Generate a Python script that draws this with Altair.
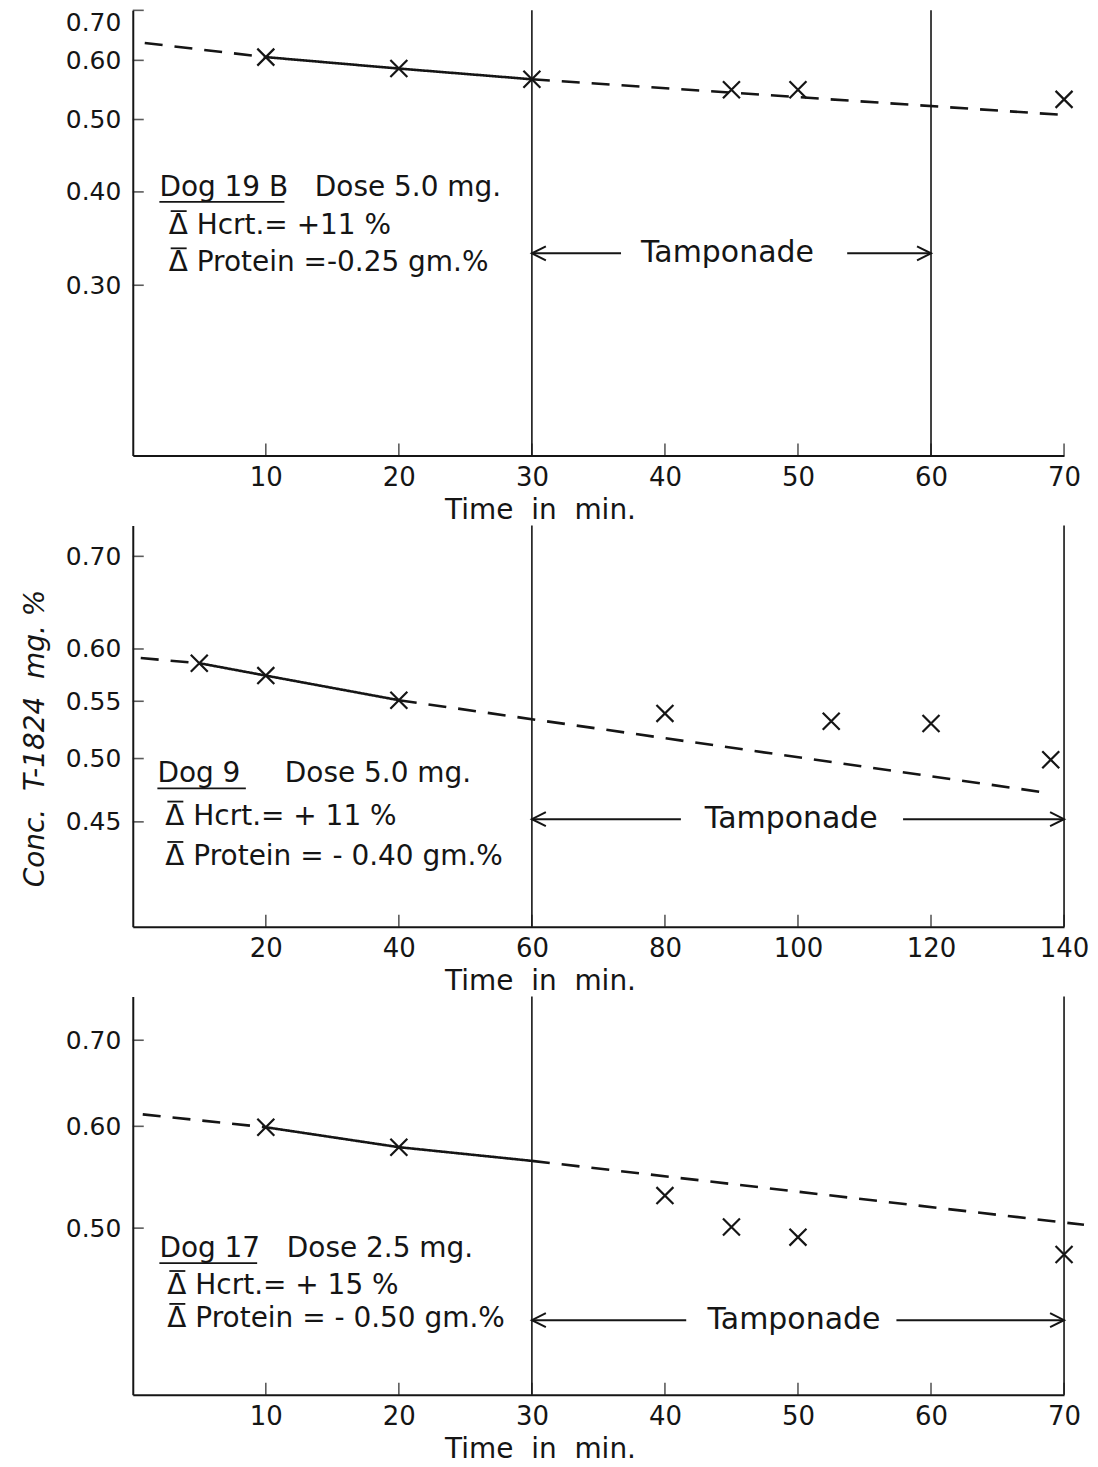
import altair as alt
import pandas as pd

INK = "#151515"
FONT = "DejaVu Sans"
NB = "\u00a0"  # non-breaking space (SVG collapses ordinary runs of spaces)

# ---------------- Panel 1: Dog 19 B ----------------
p1_time = [10, 20, 30, 45, 50, 70]
p1_conc = [0.606, 0.585, 0.566, 0.548, 0.548, 0.532]
p1_fit_time = [0.9, 10, 10, 20, 30, 30, 70]
p1_fit_conc = [0.633, 0.606, 0.606, 0.585, 0.566, 0.566, 0.507]
p1_fit_part = ["a", "a", "b", "b", "b", "c", "c"]
p1_fit_style = ["dashed", "dashed", "solid", "solid", "solid", "dashed", "dashed"]
p1_tamponade = [30, 60]
p1_shafts = [[30, 36.7], [53.7, 60]]
p1_label_time = 44.7
p1_level = 0.331
p1_note_time = [2.0, 2.7, 2.7]
p1_note_conc = [0.405, 0.360, 0.321]
p1_note_text = ["Dog 19 B" + NB * 3 + "Dose 5.0 mg.",
                "\u0394 Hcrt.= +11 %",
                "\u0394 Protein =-0.25 gm.%"]
p1_underline_end = 11.4
p1_x_ticks = [10, 20, 30, 40, 50, 60, 70]
p1_y_ticks = [0.30, 0.40, 0.50, 0.60, 0.70]
p1_x_domain = [0, 70]
p1_y_domain = [0.1775, 0.70]

# ---------------- Panel 2: Dog 9 ----------------
p2_time = [10, 20, 40, 80, 105, 120, 138]
p2_conc = [0.586, 0.574, 0.551, 0.539, 0.532, 0.530, 0.499]
p2_fit_time = [1.2, 10, 10, 20, 40, 40, 136.5]
p2_fit_conc = [0.591, 0.586, 0.586, 0.574, 0.551, 0.551, 0.473]
p2_fit_part = ["a", "a", "b", "b", "b", "c", "c"]
p2_fit_style = ["dashed", "dashed", "solid", "solid", "solid", "dashed", "dashed"]
p2_tamponade = [60, 140]
p2_shafts = [[60, 82.4], [115.8, 140]]
p2_label_time = 99.0
p2_level = 0.452
p2_note_time = [3.7, 4.9, 4.9]
p2_note_conc = [0.487, 0.454, 0.4245]
p2_note_text = ["Dog 9" + NB * 5 + "Dose 5.0 mg.",
                "\u0394 Hcrt.= + 11 %",
                "\u0394 Protein = - 0.40 gm.%"]
p2_underline_end = 17.0
p2_x_ticks = [20, 40, 60, 80, 100, 120, 140]
p2_y_ticks = [0.45, 0.50, 0.55, 0.60, 0.70]
p2_x_domain = [0, 140]
p2_y_domain = [0.378, 0.737]

# ---------------- Panel 3: Dog 17 ----------------
p3_time = [10, 20, 40, 45, 50, 70]
p3_conc = [0.599, 0.578, 0.530, 0.501, 0.492, 0.477]
p3_fit_time = [0.75, 10, 10, 20, 30, 30, 71.5]
p3_fit_conc = [0.613, 0.599, 0.599, 0.578, 0.564, 0.564, 0.503]
p3_fit_part = ["a", "a", "b", "b", "b", "c", "c"]
p3_fit_style = ["dashed", "dashed", "solid", "solid", "solid", "dashed", "dashed"]
p3_tamponade = [30, 70]
p3_shafts = [[30, 41.6], [57.4, 70]]
p3_label_time = 49.7
p3_level = 0.424
p3_note_time = [2.0, 2.6, 2.6]
p3_note_conc = [0.4816, 0.4508, 0.425]
p3_note_text = ["Dog 17" + NB * 3 + "Dose 2.5 mg.",
                "\u0394 Hcrt.= + 15 %",
                "\u0394 Protein = - 0.50 gm.%"]
p3_underline_end = 9.35
p3_x_ticks = [10, 20, 30, 40, 50, 60, 70]
p3_y_ticks = [0.50, 0.60, 0.70]
p3_x_domain = [0, 70]
p3_y_domain = [0.371, 0.757]

Y_TITLE = "Conc." + NB * 2 + "T-1824" + NB * 2 + "mg." + NB + "%"
X_TITLE = "Time" + NB * 2 + "in" + NB * 2 + "min."

X_MARK = "M -1 -1 L 1 1 M -1 1 L 1 -1"
HEAD_LEFT = "M 2 -1 L 0 0 L 2 1"
HEAD_RIGHT = "M -2 -1 L 0 0 L -2 1"

NOTE_SIZE = 28


def panel(time, conc, fit_time, fit_conc, fit_part, fit_style, tamp, shafts,
          label_time, level, note_time, note_conc, note_text, ul_end, xticks,
          yticks, xdom, ydom, width, height, ytitle=None, flush_top=False):
    pts = pd.DataFrame({"time": time, "conc": conc})
    fit = pd.DataFrame({"time": fit_time, "conc": fit_conc,
                        "part": fit_part, "style": fit_style})
    rules = pd.DataFrame({"time": tamp})
    shaft_df = pd.DataFrame({"time": [s[0] for s in shafts],
                             "time2": [s[1] for s in shafts],
                             "conc": [level] * len(shafts)})
    heads = pd.DataFrame({"time": tamp, "conc": [level, level],
                          "dir": ["left", "right"]})
    lab = pd.DataFrame({"time": [label_time], "conc": [level],
                        "text": ["Tamponade"]})
    notes = pd.DataFrame({"time": note_time, "conc": note_conc, "text": note_text})
    # underline under the dog name (first note line)
    ul = pd.DataFrame({"time": [note_time[0]], "time2": [ul_end],
                       "conc": [note_conc[0]]})
    # overbars above the Delta of lines 2 and 3
    bars = pd.DataFrame({"time": note_time[1:], "time2": note_time[1:],
                         "conc": note_conc[1:]})
    xt = pd.DataFrame({"time": xticks})
    yt = pd.DataFrame({"conc": yticks})

    xscale = alt.Scale(domain=xdom, nice=False, zero=False)
    yscale = alt.Scale(type="log", domain=ydom, nice=False)
    xaxis = alt.Axis(values=xticks, format="d", title=X_TITLE, labelFlush=False,
                     labelFontSize=26, labelPadding=9, titleFontSize=28,
                     titlePadding=6, titleX=408)
    ykw = dict(values=yticks, format=".2f", labelFlush=flush_top,
               labelFontSize=25, labelPadding=12)
    if ytitle:
        ykw.update(title=ytitle, titleFontStyle="italic", titleFontSize=28,
                   titlePadding=16, titleY=213)
    else:
        ykw.update(title=None)
    yaxis = alt.Axis(**ykw)

    def X(field="time"):
        return alt.X(f"{field}:Q", scale=xscale, axis=xaxis)

    def Y():
        return alt.Y("conc:Q", scale=yscale, axis=yaxis)

    base_rules = alt.Chart(rules).mark_rule(color=INK, strokeWidth=1.6).encode(x=X())
    fit_line = alt.Chart(fit).mark_line(color=INK, strokeWidth=2.6).encode(
        x=X(), y=Y(), detail="part:N",
        strokeDash=alt.StrokeDash("style:N", legend=None,
                                  scale=alt.Scale(domain=["solid", "dashed"],
                                                  range=[[1, 0], [18, 12]])))
    shaft_l = alt.Chart(shaft_df).mark_rule(color=INK, strokeWidth=2).encode(
        x=X(), x2="time2:Q", y=Y())
    head_l = alt.Chart(heads).mark_point(size=196, strokeWidth=2, color=INK,
                                         filled=False, opacity=1).encode(
        x=X(), y=Y(),
        shape=alt.Shape("dir:N", legend=None,
                        scale=alt.Scale(domain=["left", "right"],
                                        range=[HEAD_LEFT, HEAD_RIGHT])))
    lab_l = alt.Chart(lab).mark_text(font=FONT, fontSize=30, color=INK,
                                     align="center", baseline="middle").encode(
        x=X(), y=Y(), text="text:N")
    note_l = alt.Chart(notes).mark_text(font=FONT, fontSize=NOTE_SIZE, color=INK,
                                        align="left", baseline="middle").encode(
        x=X(), y=Y(), text="text:N")
    ul_l = alt.Chart(ul).mark_rule(color=INK, strokeWidth=1.8, yOffset=14).encode(
        x=X(), x2="time2:Q", y=Y())
    bar_l = alt.Chart(bars).mark_rule(color=INK, strokeWidth=1.8, yOffset=-15,
                                      xOffset=2, x2Offset=18).encode(
        x=X(), x2="time2:Q", y=Y())
    pt_l = alt.Chart(pts).mark_point(shape=X_MARK, size=289, strokeWidth=2.2,
                                     color=INK, filled=False, opacity=1).encode(
        x=X(), y=Y())
    xt_l = alt.Chart(xt).mark_tick(orient="vertical", size=12, thickness=1.6,
                                   color=INK).encode(x=X(), y=alt.value(height - 6))
    yt_l = alt.Chart(yt).mark_tick(orient="horizontal", size=11, thickness=1.6,
                                   color=INK).encode(y=Y(), x=alt.value(5.5))

    return alt.layer(base_rules, fit_line, shaft_l, head_l, lab_l, note_l,
                     ul_l, bar_l, pt_l, xt_l, yt_l).properties(width=width,
                                                               height=height)


W = 933
p1 = panel(p1_time, p1_conc, p1_fit_time, p1_fit_conc, p1_fit_part, p1_fit_style,
           p1_tamponade, p1_shafts, p1_label_time, p1_level, p1_note_time,
           p1_note_conc, p1_note_text, p1_underline_end, p1_x_ticks, p1_y_ticks,
           p1_x_domain, p1_y_domain, W, 446, flush_top=True)
p2 = panel(p2_time, p2_conc, p2_fit_time, p2_fit_conc, p2_fit_part, p2_fit_style,
           p2_tamponade, p2_shafts, p2_label_time, p2_level, p2_note_time,
           p2_note_conc, p2_note_text, p2_underline_end, p2_x_ticks, p2_y_ticks,
           p2_x_domain, p2_y_domain, W, 402, ytitle=Y_TITLE)
p3 = panel(p3_time, p3_conc, p3_fit_time, p3_fit_conc, p3_fit_part, p3_fit_style,
           p3_tamponade, p3_shafts, p3_label_time, p3_level, p3_note_time,
           p3_note_conc, p3_note_text, p3_underline_end, p3_x_ticks, p3_y_ticks,
           p3_x_domain, p3_y_domain, W, 399)

chart = alt.vconcat(p1, p2, p3, spacing=0).properties(
    padding={"left": 13, "top": 0, "right": 0, "bottom": 0},
    background="white",
).configure_view(stroke=None).configure_axis(
    domainColor=INK, domainWidth=2, labelColor=INK, titleColor=INK,
    labelFont=FONT, titleFont=FONT, grid=False, ticks=False, tickSize=0,
    titleFontWeight="normal",
)

chart.save("out.html", embed_options={"renderer": "svg", "actions": False})
